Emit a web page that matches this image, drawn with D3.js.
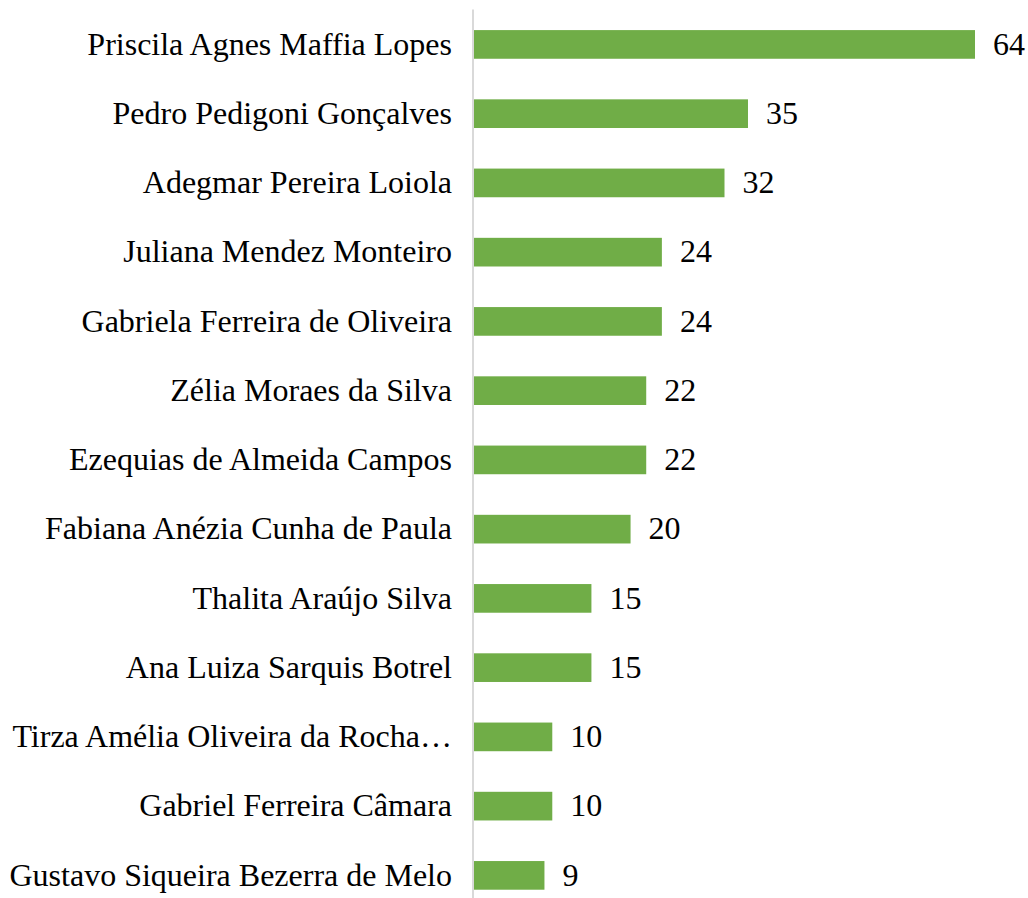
<!DOCTYPE html>
<html>
<head>
<meta charset="utf-8">
<script src="https://cdn.jsdelivr.net/npm/d3@7"></script>
<style>
  body { margin: 0; background: #fff; }
</style>
</head>
<body>
<svg id="chart" width="1028" height="898"></svg>
<script>
// data
var names = [
  'Priscila Agnes Maffia Lopes',
  'Pedro Pedigoni Gonçalves',
  'Adegmar Pereira Loiola',
  'Juliana Mendez Monteiro',
  'Gabriela Ferreira de Oliveira',
  'Zélia Moraes da Silva',
  'Ezequias de Almeida Campos',
  'Fabiana Anézia Cunha de Paula',
  'Thalita Araújo Silva',
  'Ana Luiza Sarquis Botrel',
  'Tirza Amélia Oliveira da Rocha…',
  'Gabriel Ferreira Câmara',
  'Gustavo Siqueira Bezerra de Melo'
]
var counts = [64, 35, 32, 24, 24, 22, 22, 20, 15, 15, 10, 10, 9]

// layout
var barColor = '#70ad47'
var axisColor = '#d9d9d9'
var fontFamily = '"Liberation Serif", "Times New Roman", serif'
var fontSize = 32

var svg = d3.select('#chart')

var x = d3.scaleLinear()
  .domain([0, 64])
  .range([474, 975])

var y = d3.scaleBand()
  .domain(names)
  .range([9.8, 910])
  .paddingInner(0.586)
  .paddingOuter(0.293)

var rows = names.map(function(n, i) { return { name: n, value: counts[i] } })

svg.selectAll('rect.bar')
  .data(rows)
  .enter().append('rect')
  .attr('class', 'bar')
  .attr('x', x(0))
  .attr('y', function(d) { return y(d.name) })
  .attr('width', function(d) { return x(d.value) - x(0) })
  .attr('height', y.bandwidth())
  .attr('fill', barColor)

// category axis line
svg.append('line')
  .attr('x1', x(0) - 1).attr('x2', x(0) - 1)
  .attr('y1', 9.5).attr('y2', 910)
  .attr('stroke', axisColor)
  .attr('stroke-width', 2)

// category labels
svg.selectAll('text.name')
  .data(rows)
  .enter().append('text')
  .attr('class', 'name')
  .attr('x', x(0) - 22)
  .attr('y', function(d) { return y(d.name) + y.bandwidth() / 2 + 10.3 })
  .attr('text-anchor', 'end')
  .attr('font-family', fontFamily)
  .attr('font-size', fontSize)
  .attr('fill', '#000')
  .text(function(d) { return d.name })

// value labels
svg.selectAll('text.value')
  .data(rows)
  .enter().append('text')
  .attr('class', 'value')
  .attr('x', function(d) { return x(d.value) + 18 })
  .attr('y', function(d) { return y(d.name) + y.bandwidth() / 2 + 10.3 })
  .attr('font-family', fontFamily)
  .attr('font-size', fontSize)
  .attr('fill', '#000')
  .text(function(d) { return d.value })
</script>
</body>
</html>
